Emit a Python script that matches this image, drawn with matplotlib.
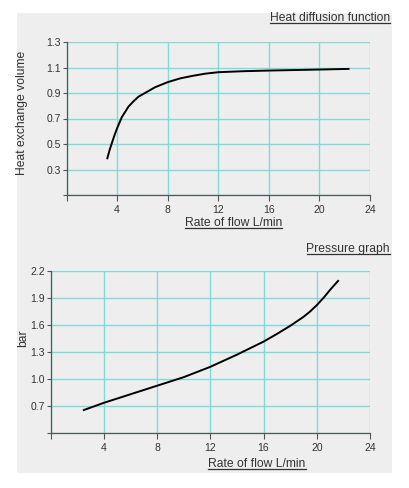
import matplotlib.pyplot as plt
from matplotlib.patches import Rectangle
from matplotlib.lines import Line2D

plt.rcParams['font.family'] = ['Liberation Sans', 'DejaVu Sans']

W, H = 409, 488

# heat diffusion curve (flow L/min -> heat exchange volume)
heat_flow = [3.23, 3.4, 3.58, 3.8, 4.0, 4.37, 4.9, 5.3, 5.69, 6.21, 7.0, 8.0, 9.0, 10.0, 11.0, 12.0,
             14.0, 16.0, 18.0, 20.0, 22.3]
heat_vol = [0.388, 0.45, 0.505, 0.57, 0.623, 0.71, 0.793, 0.835, 0.871, 0.90, 0.945, 0.985, 1.015,
            1.035, 1.052, 1.063, 1.071, 1.076, 1.08, 1.084, 1.089]

# pressure curve (flow L/min -> bar)
press_flow = [2.5, 4, 6, 8, 10, 12, 14, 16, 17, 18, 19, 19.5, 20, 20.5, 21, 21.6]
press_bar = [0.655, 0.735, 0.83, 0.925, 1.02, 1.135, 1.27, 1.415, 1.5, 1.59, 1.69, 1.75, 1.82, 1.9, 1.99, 2.09]

x_ticks = [0, 4, 8, 12, 16, 20, 24]
x_labels = ['', '4', '8', '12', '16', '20', '24']
heat_ticks = [0.1, 0.3, 0.5, 0.7, 0.9, 1.1, 1.3]
heat_labels = ['', '0.3', '0.5', '0.7', '0.9', '1.1', '1.3']
press_ticks = [0.4, 0.7, 1.0, 1.3, 1.6, 1.9, 2.2]
press_labels = ['', '0.7', '1.0', '1.3', '1.6', '1.9', '2.2']

GRID = '#7fdbd6'
TXT = '#333333'
SPINE = '#555555'

fig = plt.figure(figsize=(W / 100, H / 100), dpi=100)
fig.patch.set_facecolor('white')
fig.patches.append(Rectangle((17 / W, 1 - 473 / H), (392 - 17) / W, (473 - 13) / H,
                             transform=fig.transFigure, facecolor='#eeeeee',
                             edgecolor='none', zorder=-10))


def px(x, y):
    return x / W, 1 - y / H


def make_axes(box, xs, ys, yticks, ylabels, ylim):
    l, t, r, b = box
    ax = fig.add_axes([l / W, 1 - b / H, (r - l) / W, (b - t) / H])
    ax.patch.set_alpha(0)
    ax.plot(xs, ys, color='black', lw=1.4, zorder=3)
    ax.set_xlim(0, 24)
    ax.set_ylim(*ylim)
    ax.set_xticks(x_ticks)
    ax.set_xticklabels(x_labels)
    ax.set_yticks(yticks)
    ax.set_yticklabels(ylabels)
    ax.grid(True, color=GRID, lw=1.0)
    ax.set_axisbelow(True)
    for s in ['top', 'right']:
        ax.spines[s].set_visible(False)
    for s in ['left', 'bottom']:
        ax.spines[s].set_color(SPINE)
        ax.spines[s].set_linewidth(0.9)
    ax.tick_params(axis='x', direction='out', length=4, width=0.8, color=SPINE,
                   labelsize=7.5, labelcolor=TXT, pad=3)
    ax.tick_params(axis='y', direction='out', length=3, width=0.8, color=SPINE,
                   labelsize=7.5, labelcolor=TXT, pad=1)
    return ax


ax1 = make_axes((66.5, 42, 370, 195), heat_flow, heat_vol, heat_ticks, heat_labels, (0.1, 1.3))
ax2 = make_axes((50.5, 271, 370, 433), press_flow, press_bar, press_ticks, press_labels, (0.4, 2.2))

# y labels
fig.text(*px(22.5, 113), 'Heat exchange volume', rotation=90, ha='center', va='center',
         fontsize=8.7, color=TXT)
fig.text(*px(22.7, 338), 'bar', rotation=90, ha='center', va='center',
         fontsize=8.7, color=TXT)

# underlined texts: (x, baseline y, text, ha)
under = [
    (390, 21, 'Heat diffusion function', 'right'),
    (390, 252, 'Pressure graph', 'right'),
    (233.5, 226, 'Rate of flow L/min', 'center'),
    (257, 467, 'Rate of flow L/min', 'center'),
]
texts = []
for x, y, s, ha in under:
    t = fig.text(*px(x, y), s, ha=ha, va='baseline', fontsize=8.7, color=TXT)
    texts.append((t, y))

fig.canvas.draw()
for t, y in texts:
    bb = t.get_window_extent()
    yy = 1 - (y + 2) / H
    fig.lines.append(Line2D([bb.x0 / W, bb.x1 / W], [yy, yy], transform=fig.transFigure,
                            color=TXT, lw=0.9))

fig.savefig('out.png', dpi=100)
